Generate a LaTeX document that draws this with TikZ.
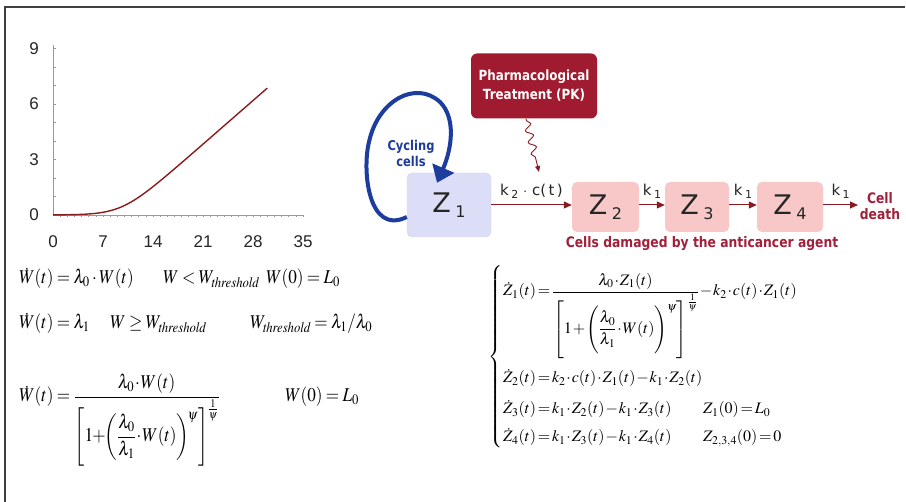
\documentclass[tikz,border=0pt]{standalone}
\usepackage{amsmath}
\usepackage{mathptmx}
\usepackage[no-math]{fontspec}
\newfontfamily\dvs[FakeStretch=0.85]{DejaVu Sans}
\newfontfamily\dvn{DejaVu Sans}
\newfontfamily\lsans{Liberation Sans}
\usetikzlibrary{decorations.pathmorphing,arrows.meta}
\definecolor{pkred}{HTML}{A01B2F}
\definecolor{darkred}{HTML}{8A1A22}
\definecolor{labred}{HTML}{A2203A}
\definecolor{pinkfill}{HTML}{F8C8C8}
\definecolor{lavfill}{HTML}{DCDEF7}
\definecolor{loopblue}{HTML}{1C3C9E}
\definecolor{curvered}{HTML}{8C1C1C}
\newcommand\sqz[1]{\scalebox{0.88}[1]{#1}}
\newcommand\zsub[1]{\,\raisebox{-5pt}{\fontsize{16}{16}\selectfont #1}}
\newcommand\ksub[1]{\,\raisebox{-3pt}{\fontsize{11}{11}\selectfont #1}}
\tikzset{
  frame/.style={draw=black!75, line width=1.2pt},
  axisline/.style={draw=black!40, line width=0.8pt},
  tickline/.style={draw=black!40, line width=0.6pt},
  ticklab/.style={font=\lsans\fontsize{17}{17}\selectfont, text=black!85, inner sep=0pt},
  growth/.style={draw=curvered, line width=1.4pt},
  eqL/.style={inner sep=0pt, anchor=base west, font=\fontsize{19.5}{22}\selectfont},
  eqR/.style={inner sep=0pt, anchor=base west, font=\fontsize{16}{19}\selectfont},
  zbox/.style={rounded corners=5pt, inner sep=0pt, font=\dvn\fontsize{27}{27}\selectfont, text=black!85},
  zone/.style={zbox, fill=lavfill, draw=lavfill!85!blue!60, minimum width=84pt, minimum height=64pt},
  zdam/.style={zbox, fill=pinkfill, draw=none, minimum height=50pt},
  pkbox/.style={rounded corners=6pt, fill=pkred, text=white, align=center, minimum width=126pt, minimum height=65pt, inner sep=0pt, font=\dvs\bfseries\fontsize{14}{19}\selectfont},
  redarrow/.style={draw=darkred, line width=1pt, -{Triangle[length=8pt,width=7pt]}},
  klab/.style={font=\dvn\fontsize{15}{15}\selectfont, text=black!85, inner sep=0pt, above=6pt},
  redlab/.style={font=\dvs\bfseries\fontsize{14.5}{16}\selectfont, text=labred, align=center, inner sep=0pt},
  bluelab/.style={font=\dvs\bfseries\fontsize{13.5}{16}\selectfont, text=loopblue, align=center, inner sep=0pt},
  loop/.style={draw=loopblue, line width=4pt, -{Triangle[length=16pt,width=23pt]}},
  squig/.style={draw=darkred, line width=0.9pt, decorate, decoration={snake, amplitude=3.5pt, segment length=12pt, pre length=2pt, post length=10pt}, -{Triangle[length=6pt,width=5pt]}},
  declare function={sp(\t)=0.648*(max(0.52*(\t-9.64),0)+ln(1+exp(-abs(0.52*(\t-9.64)))));}
}
\begin{document}
\begin{tikzpicture}[x=1pt,y=-1pt]
\useasboundingbox (0,0) rectangle (906,502);
\fill[white] (0,0) rectangle (906,502);
\draw[frame] (5,502) -- (5,7) -- (905,7);

% ---- chart ----
\coordinate (O) at (53,215);
\coordinate (xend) at (303,215);
\coordinate (yend) at (53,45);
\foreach \i in {1,...,35} \draw[tickline] ({53+7.143*\i},215) -- ++(0,2.5);
\foreach \i in {1,...,9} \draw[tickline] (53,{215-18.5*\i}) -- ++(3,0);
\draw[axisline] (O) -- (xend);
\draw[axisline] (O) -- (yend);
\foreach \v in {0,7,14,21,28,35} \node[ticklab] (xl\v) at ({53+7.143*\v},242) {\v};
\foreach \v in {0,3,6,9} \node[ticklab] (yl\v) at (34,{215-18.5*\v}) {\v};
\draw[growth] plot[domain=0:30, samples=90, smooth] ({53+7.143*\x},{215-18.5*sp(\x)});

% ---- left equations ----
\begingroup
\thickmuskip=3.5mu \medmuskip=2.5mu
\node[eqL] (l1a) at (19,284) {\sqz{$\dot W(t)=\lambda_0\cdot W(t)$}};
\node[eqL] (l1b) at (163,284) {\sqz{$W<W_{\mathit{threshold}}$}};
\node[eqL] (l1c) at (266,284) {\sqz{$W(0)=L_0$}};
\node[eqL] (l2a) at (19,329) {\sqz{$\dot W(t)=\lambda_1$}};
\node[eqL] (l2b) at (110,329) {\sqz{$W\geq W_{\mathit{threshold}}$}};
\node[eqL] (l2c) at (250,329) {\sqz{$W_{\mathit{threshold}}=\lambda_1/\lambda_0$}};
\node[eqL] (l3a) at (19,402) {\sqz{\medmuskip=1mu$\dot W(t)=\dfrac{\lambda_0\cdot W(t)}{\left[\vcenter{\hbox{\rule{0pt}{58pt}}}1\!+\!\biggl(\dfrac{\lambda_0}{\lambda_1}\cdot W(t)\biggr)^{\!\psi}\right]^{\frac{1}{\psi}}}$}};
\node[eqL] (l3b) at (285,402) {\sqz{$W(0)=L_0$}};
\endgroup

% ---- right equations ----
\node[inner sep=0pt, font=\fontsize{16}{19}\selectfont] (brace) at (496,357) {$\left\{\vcenter{\hbox{\rule{0pt}{185pt}}}\right.$};
\begingroup
\thickmuskip=2mu \medmuskip=1mu
\node[eqR] (r1) at (503,296) {$\dot Z_1(t)=\dfrac{\lambda_0\cdot Z_1(t)}{\left[\vcenter{\hbox{\rule{0pt}{58pt}}}1+\Biggl(\dfrac{\lambda_0}{\lambda_1}\cdot W(t)\Biggr)^{\psi}\right]^{\frac{1}{\psi}}}-k_2\cdot c(t)\cdot Z_1(t)$};
\node[eqR] (r2) at (503,383) {$\dot Z_2(t)=k_2\cdot c(t)\cdot Z_1(t)-k_1\cdot Z_2(t)$};
\node[eqR] (r3) at (503,414) {$\dot Z_3(t)=k_1\cdot Z_2(t)-k_1\cdot Z_3(t)$};
\node[eqR] (r3b) at (703,414) {$Z_1(0)=L_0$};
\node[eqR] (r4) at (503,442) {$\dot Z_4(t)=k_1\cdot Z_3(t)-k_1\cdot Z_4(t)$};
\node[eqR] (r4b) at (703,442) {$Z_{2,3,4}(0)=0$};
\endgroup

% ---- compartment diagram ----
\node[pkbox] (pk) at (534,86) {Pharmacological\\Treatment (PK)};
\node[zone] (z1) at (449,205) {Z\zsub{1}};
\node[zdam, minimum width=67pt] (z2) at (605.5,207) {Z\zsub{2}};
\node[zdam, minimum width=64pt] (z3) at (697,207) {Z\zsub{3}};
\node[zdam, minimum width=66pt] (z4) at (790,207) {Z\zsub{4}};
\node[redlab] (cd) at (880,206) {Cell\\death};
\node[redlab] (dam) at (702,244) {Cells damaged by the anticancer agent};
\node[bluelab] (cyc) at (411,153) {Cycling\\cells};
\coordinate (death) at (858,205);

\draw[redarrow] (z1.east |- 0,205) -- node[klab] {k\ksub{2} $\cdot$ c(\,t\,)} (z2.west |- 0,205);
\draw[redarrow] (z2.east |- 0,205) -- node[klab] {k\ksub{1}} (z3.west |- 0,205);
\draw[redarrow] (z3.east |- 0,205) -- node[klab] {k\ksub{1}} (z4.west |- 0,205);
\draw[redarrow] (z4.east |- 0,205) -- node[klab] {k\ksub{1}} (death);

\coordinate (sqs) at ([xshift=-8pt]pk.south);
\coordinate (sqe) at (539,172);
\draw[squig] (sqs) -- (sqe);

\coordinate (ls) at ([yshift=-12pt]z1.west);
\coordinate (lt) at ([xshift=-12pt,yshift=-10pt]z1.north);
\draw[loop] (ls) .. controls (368,236) and (362,170) .. (369,142)
  .. controls (378,100) and (416,80) .. (440,102)
  .. controls (456,118) and (452,148) .. (lt);
\end{tikzpicture}
\end{document}
